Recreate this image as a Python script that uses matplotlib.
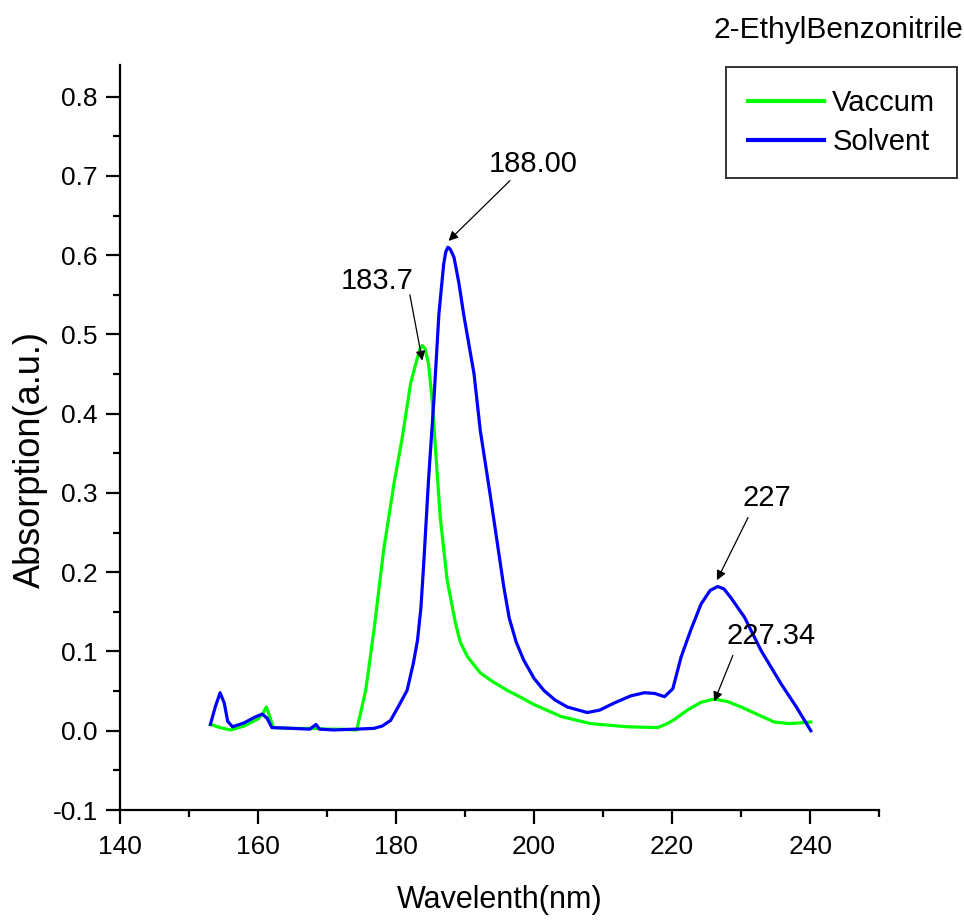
import matplotlib
matplotlib.use('Agg')
import matplotlib.pyplot as plt
from matplotlib.ticker import MultipleLocator

plt.rcParams['font.family'] = ['Liberation Sans', 'DejaVu Sans']

# Vaccum (green)
vac_x = [153.1, 154.5, 156.0, 158.0, 160.0, 160.7, 161.2, 161.7, 162.2, 165.0, 168.0, 170.0,
         172.0, 174.3, 175.6, 176.8, 178.2, 179.7, 180.9, 182.1, 183.1, 183.5, 183.8, 184.2,
         184.7, 185.2, 185.7, 186.4, 187.4, 188.6, 189.3, 190.3, 192.2, 194.0, 196.1, 198.1,
         200.0, 203.9, 208.2, 213.5, 217.9, 219.3, 220.3, 222.2, 224.2, 226.1, 228.0, 230.0,
         232.5, 234.8, 237.0, 240.1]
vac_y = [0.008, 0.004, 0.001, 0.006, 0.015, 0.022, 0.030, 0.018, 0.004, 0.003, 0.003, 0.002,
         0.002, 0.001, 0.051, 0.127, 0.228, 0.312, 0.370, 0.438, 0.471, 0.482, 0.486, 0.482,
         0.463, 0.420, 0.357, 0.269, 0.190, 0.136, 0.112, 0.094, 0.073, 0.062, 0.051, 0.042,
         0.033, 0.018, 0.009, 0.005, 0.004, 0.009, 0.014, 0.026, 0.036, 0.040, 0.037, 0.030,
         0.020, 0.011, 0.009, 0.011]

# Solvent (blue)
sol_x = [153.1, 153.8, 154.5, 155.1, 155.6, 156.3, 158.0, 159.5, 160.6, 161.3, 162.0, 165.0,
         167.5, 168.4, 168.9, 171.0, 174.0, 176.8, 178.0, 179.2, 180.3, 181.6, 182.5, 183.1,
         183.6, 184.0, 184.7, 185.5, 186.2, 186.9, 187.2, 187.5, 187.8, 188.1, 188.4, 189.1,
         189.8, 191.3, 192.2, 193.7, 194.7, 195.6, 196.4, 197.4, 198.5, 200.0, 201.4, 203.0,
         204.8, 207.7, 209.5, 211.6, 214.0, 216.0, 217.5, 218.9, 220.1, 221.3, 222.7, 224.2,
         225.5, 226.6, 227.5, 228.5, 230.5, 232.9, 235.8, 238.0, 240.1]
sol_y = [0.008, 0.030, 0.048, 0.035, 0.012, 0.005, 0.010, 0.017, 0.021, 0.016, 0.004, 0.003,
         0.002, 0.008, 0.002, 0.001, 0.002, 0.003, 0.006, 0.013, 0.030, 0.051, 0.085, 0.114,
         0.155, 0.210, 0.316, 0.420, 0.525, 0.589, 0.604, 0.610, 0.608, 0.603, 0.597, 0.565,
         0.525, 0.450, 0.379, 0.294, 0.235, 0.182, 0.142, 0.112, 0.089, 0.066, 0.051, 0.039,
         0.030, 0.023, 0.026, 0.035, 0.044, 0.048, 0.047, 0.043, 0.053, 0.093, 0.127, 0.160,
         0.177, 0.182, 0.179, 0.168, 0.143, 0.101, 0.059, 0.030, 0.000]

# peak labels: text, text position, arrow tail, arrow head
labels = ['183.7', '188.00', '227', '227.34']
label_pos = [(177.3, 0.567), (199.8, 0.715), (233.8, 0.294), (234.3, 0.120)]
arrow_from = [(182.0, 0.550), (196.5, 0.694), (231.0, 0.269), (228.8, 0.095)]
arrow_to = [(183.8, 0.467), (187.6, 0.618), (226.5, 0.190), (226.1, 0.037)]

fig = plt.figure(figsize=(9.64, 9.21), dpi=100)
ax = fig.add_axes([0.1245, 0.1205, 0.7875, 0.809])

ax.plot(vac_x, vac_y, color='#00ff00', lw=2.3, label='Vaccum')
ax.plot(sol_x, sol_y, color='#0000ff', lw=2.3, label='Solvent')

for t, p, a, b in zip(labels, label_pos, arrow_from, arrow_to):
    ax.text(p[0], p[1], t, fontsize=21, ha='center', va='center')
    ax.annotate('', xy=b, xytext=a,
                arrowprops=dict(arrowstyle='-|>', color='black', lw=0.9,
                                mutation_scale=14, shrinkA=0, shrinkB=0))

ax.set_xlim(140, 250)
ax.set_ylim(-0.1, 0.84)
ax.xaxis.set_major_locator(MultipleLocator(20))
ax.xaxis.set_minor_locator(MultipleLocator(10))
ax.yaxis.set_major_locator(MultipleLocator(0.1))
ax.yaxis.set_minor_locator(MultipleLocator(0.05))
ax.yaxis.set_major_formatter(plt.FormatStrFormatter('%.1f'))

for s in ['top', 'right']:
    ax.spines[s].set_visible(False)
for s in ['left', 'bottom']:
    ax.spines[s].set_linewidth(1.6)
ax.tick_params(which='major', direction='out', length=10, width=1.6, labelsize=19)
ax.tick_params(axis='x', which='major', pad=8)
ax.tick_params(axis='y', which='major', pad=6)
ax.tick_params(which='minor', direction='out', length=5, width=1.6)

ax.set_xlabel('Wavelenth(nm)', fontsize=22)
ax.xaxis.set_label_coords(0.5, -0.1)
ax.set_ylabel('Absorption(a.u.)', fontsize=26)
ax.yaxis.set_label_coords(-0.095, 0.47)

leg = ax.legend(loc='upper right', bbox_to_anchor=(1.1028, 0.9973), borderaxespad=0,
                fontsize=21, frameon=True, fancybox=False, edgecolor='black',
                handlelength=2.6, handletextpad=0.3, borderpad=0.75, labelspacing=0.4)
leg.get_frame().set_linewidth(1.4)
for line in leg.get_lines():
    line.set_linewidth(3)

fig.text(0.999, 0.967, '2-EthylBenzonitrile', fontsize=21.5, ha='right', va='center')

fig.savefig('out.png', dpi=100)
